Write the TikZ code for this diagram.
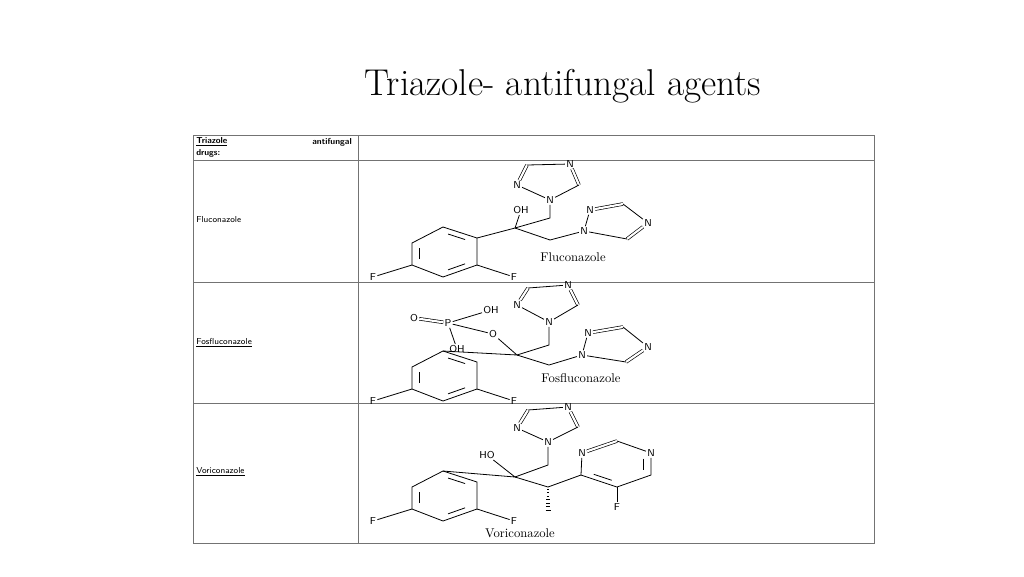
\documentclass[tikz,border=0pt]{standalone}
\usetikzlibrary{calc}
\newcommand{\innerb}[3]{%
  \coordinate (t1) at ($(#1)!0.18!(#2)$); \coordinate (t2) at ($(#1)!0.82!(#2)$);
  \draw[bd] ($(t1)!0.22!(#3)$) -- ($(t2)!0.22!(#3)$);}
\newcommand{\benz}[2]{% prefix, y shift
  \coordinate (#1a1) at (443,227+#2); \coordinate (#1a2) at (477,238+#2); \coordinate (#1a3) at (477,265+#2);
  \coordinate (#1a4) at (443,277+#2); \coordinate (#1a5) at (412,265+#2); \coordinate (#1a6) at (412,243+#2);
  \coordinate (#1c) at (444.5,252+#2);
  \draw[bd] (#1a1)--(#1a2)--(#1a3)--(#1a4)--(#1a5)--(#1a6)--cycle;
  \innerb{#1a5}{#1a6}{#1c}\innerb{#1a1}{#1a2}{#1c}\innerb{#1a3}{#1a4}{#1c}
  \node[atm] (#1F1) at (373,277+#2) {F}; \node[atm] (#1F2) at (514,277+#2) {F};
  \draw[bd] (#1a5)--(#1F1); \draw[bd] (#1a3)--(#1F2);}
\newcommand{\triaz}[6]{% prefix N1 N2 C3 N4 C5
  \node[atm] (#1n2) at (#3) {N}; \coordinate (#1c3) at (#4);
  \node[atm] (#1n4) at (#5) {N}; \coordinate (#1c5) at (#6);
  \draw[bd] (#2)--(#1n2); \draw[db] (#1n2)--(#1c3); \draw[bd] (#1c3)--(#1n4);
  \draw[db] (#1n4)--(#1c5); \draw[bd] (#1c5)--(#2);}
\begin{document}
\begin{tikzpicture}[x=0.75pt,y=-0.75pt,
  atm/.style={font=\sffamily\fontsize{7.5}{8}\selectfont,inner sep=0.8pt},
  lab/.style={font=\fontsize{9.5}{10}\selectfont},
  bd/.style={line width=0.6pt},
  db/.style={line width=0.5pt,double,double distance=1.6pt},
  grid/.style={draw=black!55,line width=0.6pt},
  cell/.style={font=\sffamily\fontsize{6.5}{7.5}\selectfont,anchor=west,inner sep=0pt},
  hcell/.style={cell,font=\sffamily\bfseries\fontsize{6.5}{7.5}\selectfont}]
\useasboundingbox (0,0) rectangle (1024,576);
\node (title) at (563,86) {\fontsize{28}{32}\selectfont Triazole- antifungal agents};
% table
\draw[grid] (193,135) rectangle (874,543);
\draw[grid] (358,135) -- (358,543);
\foreach \y in {160,282,403} \draw[grid] (193,\y) -- (874,\y);
\node[hcell] (h1) at (196,142) {\underline{Triazole}};
\node[hcell,anchor=east] (h2) at (352,142) {antifungal};
\node[hcell] (h3) at (196,153) {drugs:};
\node[cell] (r1) at (196,220) {Fluconazole};
\node[cell] (r2) at (196,343) {\underline{Fosfluconazole}};
\node[cell] (r3) at (196,472) {\underline{Voriconazole}};

% ---------- Fluconazole
\benz{f}{0}
\coordinate (fq) at (515,228);
\node[atm] (fOH) at (521,210) {OH};
\coordinate (fch1) at (550,218); \coordinate (fch2) at (550,240);
\node[atm] (fN1) at (550,200) {N};
\node[atm] (fM1) at (584,231) {N};
\draw[bd] (fa2)--(fq)--(fOH); \draw[bd] (fq)--(fch1)--(fN1); \draw[bd] (fq)--(fch2)--(fM1);
\triaz{fA}{fN1}{517,185}{527,165}{570,164}{579,185}
\triaz{fB}{fM1}{590,210}{623,204}{648,223}{627,239}
\node[lab] (fname) at (573,257) {Fluconazole};

% ---------- Fosfluconazole
\benz{p}{124}
\coordinate (pq) at (517,355);
\node[atm] (pO) at (493,334) {O};
\node[atm] (pP) at (448,323) {P};
\node[atm] (pO2) at (414,318) {O};
\node[atm] (pOH1) at (491,310) {OH};
\node[atm] (pOH2) at (457,349) {OH};
\draw[bd] (pa1)--(pq)--(pO)--(pP); \draw[db] (pP)--(pO2);
\draw[bd] (pP)--(pOH1); \draw[bd] (pP)--(pOH2);
\coordinate (pch1) at (549,345); \coordinate (pch2) at (549,365);
\node[atm] (pN1) at (549,322) {N};
\node[atm] (pM1) at (582,355) {N};
\draw[bd] (pq)--(pch1)--(pN1); \draw[bd] (pq)--(pch2)--(pM1);
\triaz{pA}{pN1}{517,305}{528,288}{568,285}{578,305}
\triaz{pB}{pM1}{588,333}{623,327}{648,347}{626,362}
\node[lab] (pname) at (581,378) {Fosfluconazole};

% ---------- Voriconazole
\benz{v}{244}
\coordinate (vq) at (515,477);
\node[atm] (vOH) at (487,455) {HO};
\coordinate (vch1) at (548,465);
\node[atm] (vN1) at (548,442) {N};
\draw[bd] (va1)--(vq)--(vOH); \draw[bd] (vq)--(vch1)--(vN1);
\triaz{vA}{vN1}{517,428}{528,410}{568,407}{578,427}
\coordinate (vch) at (548,487); \coordinate (vme) at (548,510);
\draw[bd] (vq)--(vch);
\foreach \t in {0.1,0.25,...,1.0}
  \draw[line width=0.5pt] ($(vch)!\t!(vme)+(-0.5-2*\t,0)$) -- ($(vch)!\t!(vme)+(0.5+2*\t,0)$);
\coordinate (vp4) at (581,475);
\node[atm] (vp3) at (582,453) {N};
\coordinate (vp2) at (617,441);
\node[atm] (vp1) at (651,453) {N};
\coordinate (vp6) at (651,475);
\coordinate (vp5) at (617,487);
\coordinate (vpc) at (616,464);
\draw[bd] (vch)--(vp4)--(vp3); \draw[db] (vp3)--(vp2); \draw[bd] (vp2)--(vp1);
\draw[bd] (vp1)--(vp6)--(vp5)--(vp4);
\innerb{vp1}{vp6}{vpc}\innerb{vp5}{vp4}{vpc}
\node[atm] (vF) at (617,507) {F};
\draw[bd] (vp5)--(vF);
\node[lab] (vname) at (520,533) {Voriconazole};
\end{tikzpicture}
\end{document}
